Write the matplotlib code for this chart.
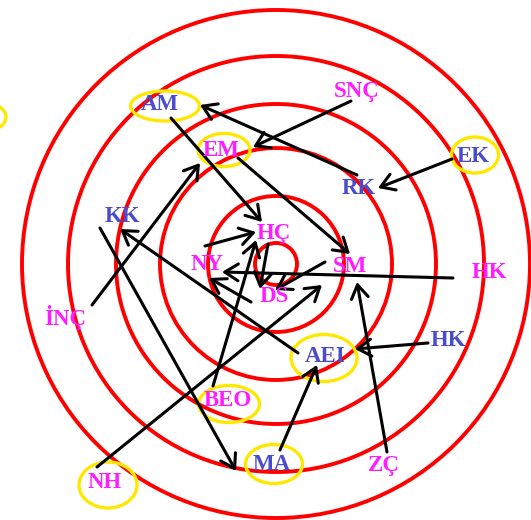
import matplotlib
matplotlib.use("Agg")
import matplotlib.pyplot as plt
from matplotlib.patches import Circle, Ellipse, FancyArrowPatch

# sociogram data: rings, people, and who chose whom
ring_center = (276, 264)
ring_radii = [21, 68, 116, 160, 208, 254]

names = ["AM", "EM", "SNÇ", "EK", "RK", "KK", "HÇ", "NY", "DS", "SM", "HK",
         "HK", "AEI", "BEO", "MA", "ZÇ", "NH", "İNÇ"]
name_x = [160, 221, 357, 473, 359, 122, 274, 207, 274, 350, 489,
          448, 325, 228, 272, 384, 105, 65]
name_y = [105, 150, 91, 157, 188, 216, 233, 265, 297, 266, 273,
          341, 356, 401, 465, 465, 483, 318]
# which names are written in blue (the rest magenta)
blue_idx = [0, 3, 4, 5, 11, 12, 14]

# yellow rings: center x, center y, width, height
mark_x = [165, 224, 475, 324, 229, 274, 108, -18]
mark_y = [106, 150, 155, 358, 404, 464, 485, 117]
mark_w = [69, 52, 47, 66, 61, 57, 58, 48]
mark_h = [30, 33, 36, 47, 37, 39, 46, 30]

# choices: start (x, y) -> end (x, y)
edge_x0 = [171, 357, 351, 452, 238, 92, 100, 298, 205, 268, 213, 325, 453, 251, 97, 280, 387, 428]
edge_y0 = [118, 175, 101, 159, 158, 305, 228, 353, 246, 244, 386, 262, 278, 302, 467, 450, 452, 343]
edge_x1 = [262, 200, 253, 378, 350, 200, 236, 120, 256, 260, 256, 275, 222, 209, 322, 317, 357, 355]
edge_y1 = [222, 105, 147, 188, 254, 163, 471, 229, 232, 289, 240, 290, 272, 278, 285, 365, 282, 349]

blue = "#4a4ccc"
magenta = "#ff1cff"

fig = plt.figure(figsize=(5.31, 5.20), dpi=100)
ax = fig.add_axes([0, 0, 1, 1])
ax.set_xlim(0, 531)
ax.set_ylim(520, 0)
ax.set_aspect("equal")
ax.axis("off")

for r in ring_radii:
    ax.add_patch(Circle(ring_center, r, fill=False, edgecolor="#ff0000", lw=2.8, zorder=1))

for x, y, w, h in zip(mark_x, mark_y, mark_w, mark_h):
    ax.add_patch(Ellipse((x, y), w, h, fill=False, edgecolor="#ffe800", lw=2.4, zorder=2))

for x0, y0, x1, y1 in zip(edge_x0, edge_y0, edge_x1, edge_y1):
    ax.add_patch(FancyArrowPatch((x0, y0), (x1, y1),
                                 arrowstyle="->,head_length=0.6,head_width=0.38",
                                 mutation_scale=16, lw=2.2, color="black",
                                 shrinkA=0, shrinkB=0, zorder=3))

for i, (n, x, y) in enumerate(zip(names, name_x, name_y)):
    c = blue if i in blue_idx else magenta
    ax.text(x, y, n, color=c, fontsize=16.5, fontweight="bold",
            family="Liberation Serif", ha="center", va="center", zorder=4)

fig.savefig("out.png", dpi=100, facecolor="white")
